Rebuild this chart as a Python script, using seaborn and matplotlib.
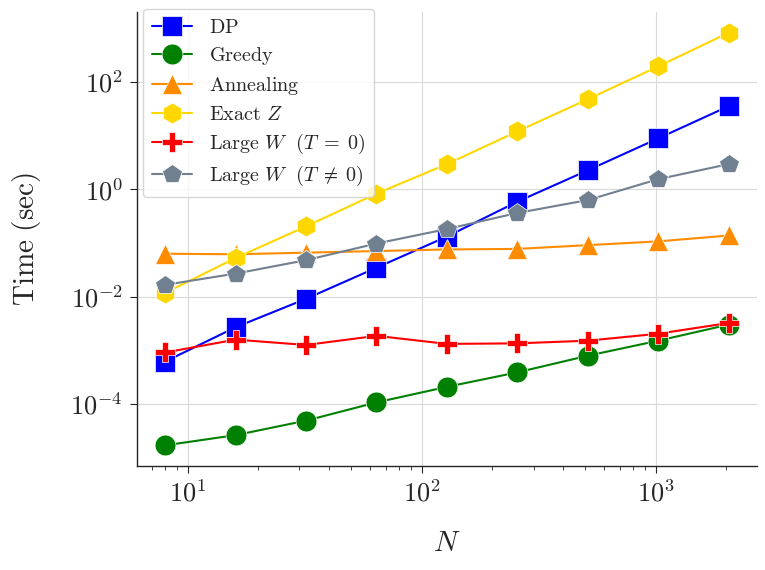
import matplotlib
matplotlib.use("Agg")
import matplotlib.pyplot as plt
import matplotlib.ticker as mticker
import numpy as np
import pandas as pd
import seaborn as sns

N = [8, 16, 32, 64, 128, 256, 512, 1024, 2048]
log_dp = [-3.21, -2.57, -2.04, -1.46, -0.88, -0.23, 0.355, 0.95, 1.55]
log_greedy = [-4.77, -4.58, -4.31, -3.97, -3.68, -3.41, -3.10, -2.82, -2.52]
log_anneal = [-1.20, -1.21, -1.18, -1.15, -1.12, -1.11, -1.04, -0.97, -0.86]
log_exactz = [-1.93, -1.28, -0.69, -0.08, 0.47, 1.08, 1.68, 2.29, 2.92]
log_largew0 = [-3.04, -2.80, -2.90, -2.73, -2.88, -2.87, -2.82, -2.69, -2.49]
log_largew1 = [-1.78, -1.57, -1.32, -1.01, -0.74, -0.44, -0.20, 0.19, 0.47]

labels = [r"$\mathrm{DP}$", r"$\mathrm{Greedy}$", r"$\mathrm{Annealing}$",
          r"$\mathrm{Exact}\ Z$", r"$\mathrm{Large}\ W\ \ (T\;=\;0)$",
          r"$\mathrm{Large}\ W\ \ (T\;\neq\;0)$"]
series = [log_dp, log_greedy, log_anneal, log_exactz, log_largew0, log_largew1]
colors = ["blue", "green", "darkorange", "gold", "red", "slategray"]
markers = ["s", "o", "^", "h", "P", "p"]

sns.set_theme(style="ticks")
plt.rcParams["mathtext.fontset"] = "cm"
plt.rcParams["font.family"] = ["DejaVu Serif"]

fig = plt.figure(figsize=(7.65, 5.7), dpi=100)
ax = fig.add_axes([0.179, 0.1825, 0.8105, 0.7965])

for lab, vals, c, m in zip(labels, series, colors, markers):
    sns.lineplot(x=N, y=[10 ** v for v in vals], ax=ax, color=c, marker=m,
                 markersize=15, linewidth=1.5, markeredgewidth=0.5, label=lab)

ax.set_xscale("log")
ax.set_yscale("log")
ax.yaxis.set_major_locator(mticker.FixedLocator([1e-4, 1e-2, 1e0, 1e2]))
ax.yaxis.set_minor_locator(mticker.NullLocator())
fmt = mticker.FuncFormatter(lambda v, p: r"$10^{%d}$" % int(round(np.log10(v))))
ax.xaxis.set_major_formatter(fmt)
ax.yaxis.set_major_formatter(fmt)
ax.grid(True, which="major", color="#d9d9d9", linewidth=0.8)
ax.set_axisbelow(True)
ax.tick_params(axis="both", which="major", labelsize=19, length=5, width=0.8, pad=5)
ax.tick_params(axis="x", which="minor", length=3, width=0.6)
ax.set_xlabel(r"$N$", fontsize=21, labelpad=16)
ax.set_ylabel(r"$\mathrm{Time\ (sec)}$", fontsize=21, labelpad=20)
sns.despine(ax=ax)
ax.spines["left"].set_linewidth(1.0)
ax.spines["bottom"].set_linewidth(1.0)

ax.legend(loc="upper left", bbox_to_anchor=(0.01, 1.007), borderaxespad=0,
          fontsize=14.5, frameon=True, labelspacing=0.4, borderpad=0.45)

fig.savefig("out.png", dpi=100)
